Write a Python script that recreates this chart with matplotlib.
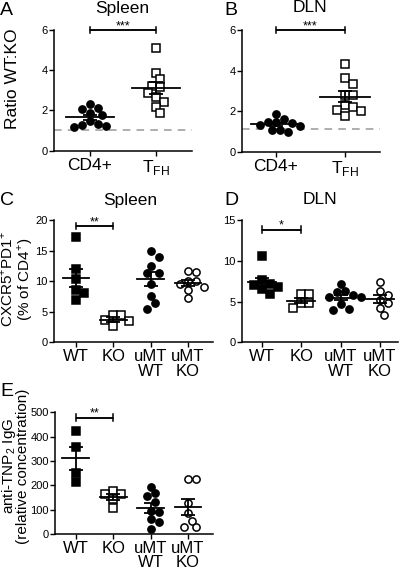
import numpy as np
import matplotlib
matplotlib.use("Agg")
import matplotlib.pyplot as plt

plt.rcParams["font.family"] = ["Liberation Sans", "DejaVu Sans"]
plt.rcParams["mathtext.fontset"] = "custom"
plt.rcParams["mathtext.rm"] = "Liberation Sans"

# ---- data ----
ratio_labels = ["CD4+", "T$_{\\mathregular{FH}}$"]
spleen_cd4 = [2.12, 2.34, 2.06, 1.86, 1.78, 1.48, 1.29, 1.18, 1.21, 1.31]
spleen_tfh = [5.12, 3.88, 3.55, 3.15, 3.23, 2.89, 2.66, 2.44, 2.19, 1.86]
dln_cd4 = [1.62, 1.88, 1.45, 1.43, 1.45, 1.08, 0.95, 1.05, 1.30, 1.25]
dln_tfh = [4.30, 3.62, 3.32, 2.79, 2.79, 2.30, 2.22, 2.05, 2.00, 1.77]
baseline_spleen = 1.05
baseline_dln = 1.13

group_labels = ["WT", "KO", "uMT\nWT", "uMT\nKO"]
c_spleen = [
    [17.2, 12.0, 10.4, 8.6, 8.1, 6.9],
    [4.5, 4.4, 3.6, 3.5, 2.6],
    [14.9, 13.9, 12.4, 11.4, 11.3, 9.5, 7.6, 6.4, 5.4],
    [11.7, 11.5, 10.1, 10.0, 9.6, 9.0, 8.6, 7.2],
]
d_dln = [
    [10.6, 7.6, 7.2, 7.0, 6.8, 6.5, 5.9],
    [5.9, 5.9, 4.8, 4.8, 4.2],
    [7.1, 6.3, 6.2, 5.8, 5.5, 5.6, 4.7, 4.0, 4.1],
    [7.4, 6.3, 5.8, 5.2, 4.8, 4.2, 3.3],
]
e_tnp = [
    [424, 356, 249, 215],
    [178, 166, 164, 144, 105],
    [194, 167, 156, 133, 95, 90, 60, 48, 19],
    [228, 224, 126, 85, 55, 30, 28],
]

W, H = 400, 569
fig = plt.figure(figsize=(W / 100, H / 100), dpi=100)


def rect(l, r, t, b):
    return [l / W, 1 - b / H, (r - l) / W, (b - t) / H]


def ftext(x, y, s, **kw):
    # place text in picture pixels (from the top-left)
    fig.text(x / W, 1 - y / H, s, **kw)


def style(ax, xlim, ylim, yticks, xlabels, xfs):
    ax.set_xlim(*xlim)
    ax.set_ylim(*ylim)
    ax.set_yticks(yticks)
    ax.set_xticks(range(len(xlabels)))
    ax.set_xticklabels(xlabels, fontsize=xfs, linespacing=0.95)
    ax.tick_params(axis="y", labelsize=8, length=3.5, width=1, pad=1)
    ax.tick_params(axis="x", length=3.5, width=1, pad=1.5)
    for s in ["top", "right"]:
        ax.spines[s].set_visible(False)
    for s in ["left", "bottom"]:
        ax.spines[s].set_linewidth(1.1)


def swarm(ax, x0, vals, d=8.0):
    # simple beeswarm in pixel space
    placed = []
    xs = np.zeros(len(vals))
    order = np.argsort(vals)[::-1]
    x_px0 = ax.transData.transform((x0, 0))[0]
    for i in order:
        py = ax.transData.transform((x0, vals[i]))[1]
        best = None
        for k in range(0, 40):
            for sgn in ([1, -1] if k else [1]):
                off = sgn * k * d / 2
                ok = all((off - px) ** 2 + (py - qy) ** 2 >= (0.95 * d) ** 2
                         for px, qy in placed)
                if ok:
                    best = off
                    break
            if best is not None:
                break
        placed.append((best, py))
        xs[i] = ax.transData.inverted().transform((x_px0 + best, py))[0]
    return xs


def dots(ax, x0, vals, marker, filled, ms=5.2):
    xs = swarm(ax, x0, vals)
    ax.plot(xs, vals, linestyle="none", marker=marker, ms=ms,
            mfc="black" if filled else "white", mec="black", mew=1.1, zorder=3)
    m = np.mean(vals)
    se = np.std(vals, ddof=1) / np.sqrt(len(vals))
    ax.plot([x0 - 0.36, x0 + 0.36], [m, m], color="black", lw=1.3, zorder=4)
    ax.errorbar([x0], [m], yerr=[se], color="black", lw=1.3, capsize=5,
                capthick=1.3, zorder=4)


def bracket(ax, x1, x2, y, h, text):
    ax.plot([x1, x1, x2, x2], [y - h, y, y, y - h], color="black", lw=1.1,
            clip_on=False)
    ax.plot([x1, x1, x2, x2], [y + h, y, y, y + h], color="black", lw=1.1,
            clip_on=False)
    ax.annotate(text, xy=((x1 + x2) / 2, y), xytext=(0, -1.5),
                textcoords="offset points", ha="center", va="bottom",
                fontsize=9, annotation_clip=False)


# ---- A ----
axA = fig.add_axes(rect(54, 192, 30, 150.7))
style(axA, (-0.545, 1.545), (0, 6), [0, 2, 4, 6], ratio_labels, 12.5)
axA.axhline(baseline_spleen, color="#999999", lw=1.1, ls=(0, (5, 4)), zorder=1)
dots(axA, 0, spleen_cd4, "o", True)
dots(axA, 1, spleen_tfh, "s", False)
bracket(axA, 0, 1, 6, 0.17, "***")

# ---- B ----
axB = fig.add_axes(rect(242, 380, 30, 151.7))
style(axB, (-0.49, 1.507), (0, 6), [0, 2, 4, 6], ratio_labels, 12.5)
axB.axhline(baseline_dln, color="#999999", lw=1.1, ls=(0, (5, 4)), zorder=1)
dots(axB, 0, dln_cd4, "o", True)
dots(axB, 1, dln_tfh, "s", False)
bracket(axB, 0, 1, 6, 0.17, "***")

markers = [("s", True), ("s", False), ("o", True), ("o", False)]

# ---- C ----
axC = fig.add_axes(rect(54, 213, 220, 342.3))
style(axC, (-0.59, 3.67), (0, 20), [0, 5, 10, 15, 20], group_labels, 12)
for i, (vals, (mk, f)) in enumerate(zip(c_spleen, markers)):
    dots(axC, i, vals, mk, f)
bracket(axC, 0, 1, 19.0, 0.55, "**")

# ---- D ----
axD = fig.add_axes(rect(241.7, 398, 220, 342.3))
style(axD, (-0.51, 3.46), (0, 15), [0, 5, 10, 15], group_labels, 12)
for i, (vals, (mk, f)) in enumerate(zip(d_dln, markers)):
    dots(axD, i, vals, mk, f)
bracket(axD, 0, 1, 13.8, 0.42, "*")

# ---- E ----
axE = fig.add_axes(rect(55, 213, 412.3, 534))
style(axE, (-0.56, 3.67), (0, 500), [0, 100, 200, 300, 400, 500],
      group_labels, 12)
for i, (vals, (mk, f)) in enumerate(zip(e_tnp, markers)):
    dots(axE, i, vals, mk, f)
bracket(axE, 0, 1, 478, 14, "**")

# titles
ftext(122, 8, "Spleen", fontsize=12.5, ha="center", va="center")
ftext(310, 8, "DLN", fontsize=12.5, ha="center", va="center")
ftext(130, 200, "Spleen", fontsize=12.5, ha="center", va="center")
ftext(320, 200, "DLN", fontsize=12.5, ha="center", va="center")

# y labels
rot = dict(rotation=90, ha="center", va="center")
ftext(13, 79, "Ratio WT:KO", fontsize=12.5, **rot)
ftext(7.5, 279, "CXCR5$^{+}$PD1$^{+}$", fontsize=11, **rot)
ftext(25.5, 279, "(% of CD4$^{+}$)", fontsize=11, **rot)
ftext(9, 466, "anti-TNP$_{2}$ IgG", fontsize=11, **rot)
ftext(23.5, 466, "(relative concentration)", fontsize=11, **rot)

# panel letters
for letter, x, y in [("A", 0, 2), ("B", 224, 2), ("C", 0, 192), ("D", 224, 192),
                     ("E", 0, 383)]:
    ftext(x, y, letter, fontsize=14, ha="left", va="top")

fig.savefig("out.png", dpi=100)
